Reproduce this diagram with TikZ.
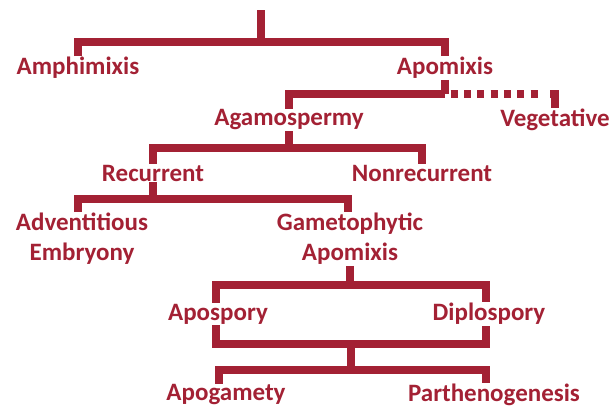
\documentclass[tikz,border=0pt]{standalone}
\usepackage{fontspec}
\setmainfont{Carlito}
\usepackage{tikz}
\usetikzlibrary{positioning}
\definecolor{maroon}{RGB}{163,33,52}

\begin{document}
\begin{tikzpicture}[x=1pt, y=-1pt,
        term/.style={text=maroon, font=\bfseries\fontsize{25}{30}\selectfont, inner sep=1pt, align=center},
        branch/.style={draw=maroon, line width=8pt, line join=miter},
        maybe/.style={branch, dash pattern=on 7pt off 6.3pt, dash phase=7.6pt}]
        \useasboundingbox (0,0) rectangle (614,408);

        \node[term] (amph)   at (78,68)   {Amphimixis};
        \node[term] (apom)   at (445,68)  {Apomixis};
        \node[term] (agam)   at (289,120) {Agamospermy};
        \node[term] (veg)    at (555,120) {Vegetative};
        \node[term] (rec)    at (153,173) {Recurrent};
        \node[term] (nonrec) at (422,173) {Nonrecurrent};
        \node[term] (advent) at (82,239)  {Adventitious\\Embryony};
        \node[term] (gamet)  at (350,239) {Gametophytic\\Apomixis};
        \node[term] (apos)   at (218,314) {Apospory};
        \node[term] (dipl)   at (489,314) {Diplospory};
        \node[term] (apog)   at (226,395) {Apogamety};
        \node[term] (parth)  at (494,395) {Parthenogenesis};

        \coordinate (root) at (261,10);
        \coordinate (j1) at (261,42);
        \coordinate (j2) at (apom.south |- 0,94);
        \coordinate (j2d) at (540,94);
        \coordinate (j2v) at ([xshift=-5pt]veg.north |- j2);
        \coordinate (j3) at (agam.south |- 0,148);
        \coordinate (j4) at (rec.south |- 0,199);
        \coordinate (j5) at (gamet.south |- 0,285);
        \coordinate (j6) at (351,344);
        \coordinate (j7) at (351,370);

        \draw[branch] (root) -- (j1);
        \draw[branch] (amph.north) |- (j1) -| (apom.north);
        \draw[branch] (apom.south) -- (j2);
        \draw[branch] (agam.north) |- (j2);
        \draw[maybe] (j2) -- (j2d);
        \draw[branch] (j2v) -| (veg.north);
        \draw[branch] (agam.south) -- (j3);
        \draw[branch] (rec.north) |- (j3) -| (nonrec.north);
        \draw[branch] (rec.south) -- (j4);
        \draw[branch] ([xshift=-4pt]advent.north) |- (j4) -| ([xshift=-2pt]gamet.north);
        \draw[branch] (gamet.south) -- (j5);
        \draw[branch] ([xshift=-2pt]apos.north) |- (j5) -| ([xshift=-3pt]dipl.north);
        \draw[branch] ([xshift=-2pt]apos.south) |- (j6) -| ([xshift=-3pt]dipl.south);
        \draw[branch] (j6) -- (j7);
        \draw[branch] ([xshift=-7pt]apog.north) |- (j7) -| ([xshift=-8pt]parth.north);
\end{tikzpicture}
\end{document}
